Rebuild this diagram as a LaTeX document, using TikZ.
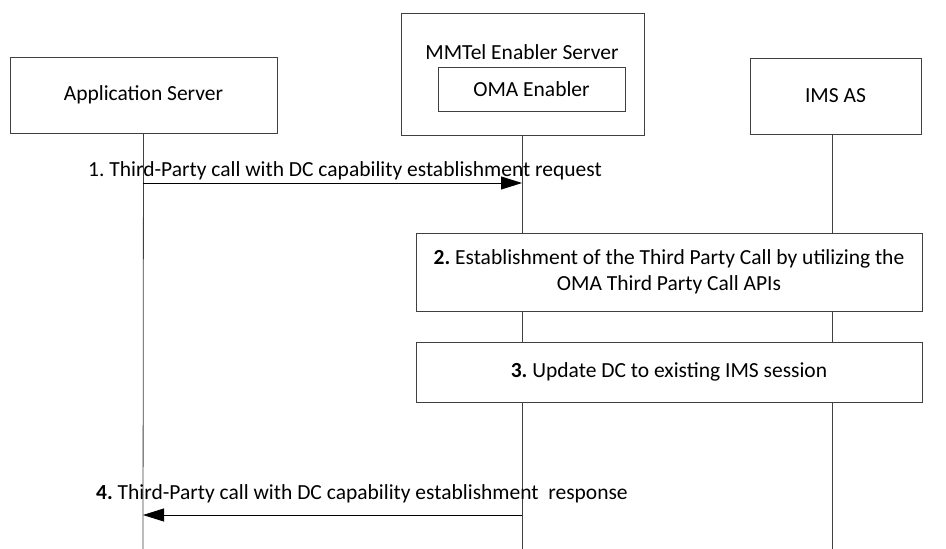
\documentclass[tikz,border=0pt]{standalone}
\usepackage{fontspec}
\setmainfont{Carlito}
\usetikzlibrary{arrows.meta}
\frenchspacing
\begin{document}
\begin{tikzpicture}[x=1pt,y=-1pt,
  every node/.style={font=\fontsize{21.5}{25.5}\selectfont},
  ent/.style={draw=black!75, line width=0.8pt, inner sep=0pt},
  life/.style={draw=black!75, line width=0.8pt},
  msg/.style={draw=black, line width=0.8pt, -{Triangle[length=21pt,width=13pt]}},
  lbl/.style={inner sep=0pt, anchor=base west}]
\useasboundingbox (0,0) rectangle (946,549);
% entities
\node[ent, minimum width=267pt, minimum height=76pt] (as) at (143.5,95) {Application Server};
\node[ent, minimum width=243pt, minimum height=122pt] (mm) at (522.5,74) {};
\node[inner sep=0pt, anchor=base] (mmt) at (522,59) {MMTel Enabler Server};
\node[ent, minimum width=187pt, minimum height=44pt] (oma) at (531.5,89) {OMA Enabler};
\node[ent, minimum width=171pt, minimum height=76pt] (ims) at (835.5,96) {IMS AS};
% lifeline ends
\coordinate (asb) at (143,549);
\coordinate (mmb) at (522,549);
\coordinate (imsb) at (832,549);
\coordinate (mmtop) at (522,135);
\coordinate (imstop) at (832,134);
\draw[life] (as.south) -- (asb);
\draw[life] (mmtop) -- (mmb);
\draw[life] (imstop) -- (imsb);
% step boxes
\node[ent, fill=white, minimum width=506pt, minimum height=78pt, align=center] (s2) at (669,272)
  {\textbf{2.} Establishment of the Third Party Call by utilizing the\\OMA Third Party Call APIs};
\node[ent, fill=white, minimum width=506pt, minimum height=60pt] (s3) at (669,372)
  {\textbf{3.} Update DC to existing IMS session};
% messages
\coordinate (m1s) at (143,183);
\coordinate (m1e) at (522,183);
\draw[msg] (m1s) -- (m1e);
\node[lbl] (l1) at (88,176) {1. Third-Party call with DC capability establishment request};
\coordinate (m4s) at (522,515);
\coordinate (m4e) at (143,515);
\draw[msg] (m4s) -- (m4e);
\node[lbl] (l4) at (96,499) {\textbf{4.} Third-Party call with DC capability establishment\ \ response};
\end{tikzpicture}
\end{document}
